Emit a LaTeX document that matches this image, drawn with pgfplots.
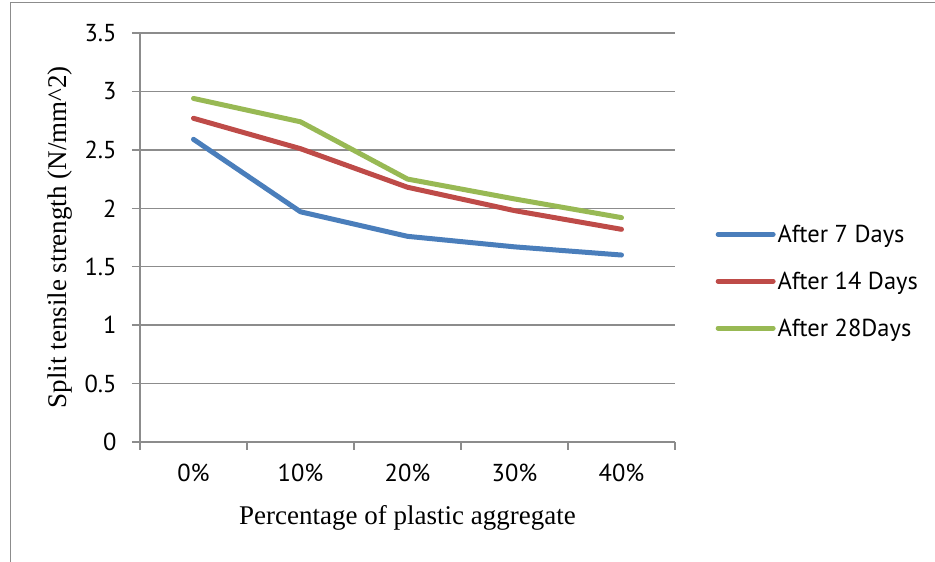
\documentclass[border=0pt]{standalone}
\usepackage{pgfplots}
\pgfplotsset{compat=1.18}
\usepackage{fontspec}
\setmainfont{Liberation Serif}
\newfontfamily\ptsans{PT Sans}
\definecolor{c7}{HTML}{4A7EBB}
\definecolor{c14}{HTML}{BE4B48}
\definecolor{c28}{HTML}{98B954}
\definecolor{gridc}{HTML}{8C8C8C}
\begin{document}
\begin{tikzpicture}[x=1pt,y=1pt]
\path[use as bounding box] (0,0) rectangle (935,562);
\draw[gridc, line width=1pt] (10,0) -- (10,559) -- (935,559);
\begin{axis}[
  at={(140pt,120pt)}, anchor=south west,
  scale only axis, width=535pt, height=409pt,
  xmin=-0.5, xmax=4.5, ymin=0, ymax=3.5,
  axis x line*=bottom, axis y line*=left,
  axis line style={gridc, line width=1.3pt},
  xtick={0,1,2,3,4}, xticklabels={0\%,10\%,20\%,30\%,40\%},
  major x tick style={draw=none},
  minor xtick={-0.5,0.5,1.5,2.5,3.5,4.5},
  ytick={0,0.5,1,1.5,2,2.5,3,3.5},
  yticklabels={0,0.5,1,1.5,2,2.5,3,3.5},
  tick style={gridc, line width=1.3pt},
  tick align=outside, major tick length=8pt, minor tick length=8pt,
  ymajorgrids, grid style={gridc, line width=1.3pt},
  tick label style={font=\ptsans\fontsize{24.5}{28}\selectfont},
  xticklabel style={yshift=-10pt},
  yticklabel style={xshift=-12pt},
  xlabel={Percentage of plastic aggregate},
  xlabel style={at={(rel axis cs:0.5,-0.186)}, anchor=center, font=\fontsize{27}{30}\selectfont},
  ylabel={Split tensile strength (N/mm\textasciicircum{}2)},
  ylabel style={at={(rel axis cs:-0.1495,0.501)}, anchor=center, font=\fontsize{27}{30}\selectfont},
  legend style={at={(rel axis cs:1.07,0.393)}, anchor=west, draw=none, fill=none,
    font=\ptsans\fontsize{24.5}{28}\selectfont, row sep=24pt,
    /tikz/every even column/.style={column sep=4pt}},
  legend cell align=left,
  legend image code/.code={\draw[#1, line cap=round] (0pt,0pt) -- (55pt,0pt);},
  clip=false,
]
\addplot[c7, line width=5pt, line cap=round, line join=round] coordinates {(0,2.59) (1,1.97) (2,1.76) (3,1.67) (4,1.60)};
\addlegendentry{After 7 Days}
\addplot[c14, line width=5pt, line cap=round, line join=round] coordinates {(0,2.77) (1,2.51) (2,2.18) (3,1.98) (4,1.82)};
\addlegendentry{After 14 Days}
\addplot[c28, line width=5pt, line cap=round, line join=round] coordinates {(0,2.94) (1,2.74) (2,2.25) (3,2.08) (4,1.92)};
\addlegendentry{After 28Days}
\end{axis}
\end{tikzpicture}
\end{document}
